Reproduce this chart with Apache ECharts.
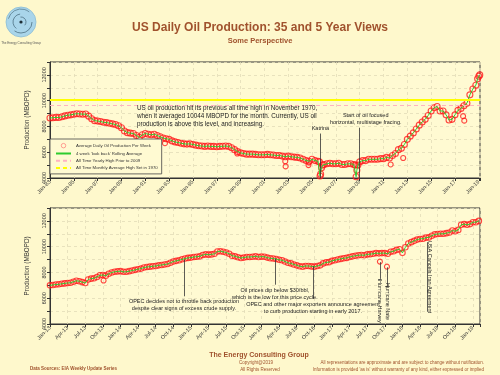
<!DOCTYPE html>
<html>
<head>
<meta charset="utf-8">
<script src="https://cdn.jsdelivr.net/npm/echarts@6/dist/echarts.min.js"></script>
<style>
  html, body { margin: 0; padding: 0; background: #fef8cc; }
  #chart { width: 500px; height: 375px; }
</style>
</head>
<body>
<div id="chart"></div>
<script>
// 35 year view: [decimal year, MBOPD]
const longData = [
  [1983.00, 8650], [1983.25, 8680], [1983.50, 8700], [1983.75, 8690],
  [1984.00, 8750], [1984.25, 8820], [1984.50, 8870], [1984.75, 8900],
  [1985.00, 8950], [1985.25, 8990], [1985.50, 8970], [1985.75, 8950],
  [1986.00, 8960], [1986.25, 8800], [1986.50, 8600], [1986.75, 8450],
  [1987.00, 8420], [1987.25, 8380], [1987.50, 8320], [1987.75, 8300],
  [1988.00, 8250], [1988.25, 8200], [1988.50, 8150], [1988.75, 8050],
  [1989.00, 7900], [1989.25, 7650], [1989.50, 7520], [1989.75, 7480],
  [1990.00, 7450], [1990.25, 7300], [1990.50, 7150], [1990.75, 7350],
  [1991.00, 7450], [1991.25, 7400], [1991.50, 7350], [1991.75, 7400],
  [1992.00, 7300], [1992.25, 7200], [1992.50, 7100], [1992.75, 7050],
  [1993.00, 7000], [1993.25, 6880], [1993.50, 6800], [1993.75, 6750],
  [1994.00, 6700], [1994.25, 6650], [1994.50, 6630], [1994.75, 6650],
  [1995.00, 6600], [1995.25, 6550], [1995.50, 6500], [1995.75, 6480],
  [1996.00, 6450], [1996.25, 6480], [1996.50, 6450], [1996.75, 6450],
  [1997.00, 6420], [1997.25, 6450], [1997.50, 6460], [1997.75, 6480],
  [1998.00, 6450], [1998.25, 6350], [1998.50, 6200], [1998.75, 6050],
  [1999.00, 5950], [1999.25, 5900], [1999.50, 5850], [1999.75, 5850],
  [2000.00, 5850], [2000.25, 5830], [2000.50, 5800], [2000.75, 5800],
  [2001.00, 5800], [2001.25, 5830], [2001.50, 5800], [2001.75, 5780],
  [2002.00, 5750], [2002.25, 5750], [2002.50, 5700], [2002.75, 5650],
  [2003.00, 5700], [2003.25, 5650], [2003.50, 5620], [2003.75, 5600],
  [2004.00, 5550], [2004.25, 5450], [2004.50, 5350], [2004.75, 5300],
  [2005.00, 5450], [2005.25, 5350], [2005.50, 5300], [2005.62, 5250],
  [2005.67, 4150], [2005.72, 4300], [2005.80, 4800], [2005.90, 5000],
  [2006.00, 5050], [2006.25, 5100], [2006.50, 5150], [2006.75, 5100],
  [2007.00, 5100], [2007.25, 5150], [2007.50, 5050], [2007.75, 5050],
  [2008.00, 5100], [2008.25, 5100], [2008.50, 5050], [2008.62, 5000],
  [2008.70, 4100], [2008.76, 4600], [2008.85, 5000],
  [2009.00, 5250], [2009.25, 5350], [2009.50, 5350], [2009.75, 5450],
  [2010.00, 5450], [2010.25, 5450], [2010.50, 5450], [2010.75, 5500],
  [2011.00, 5500], [2011.25, 5600], [2011.50, 5550], [2011.75, 5750],
  [2012.00, 5900], [2012.25, 6200], [2012.50, 6300], [2012.75, 6600],
  [2013.00, 7000], [2013.25, 7250], [2013.50, 7500], [2013.75, 7800],
  [2014.00, 8100], [2014.25, 8350], [2014.50, 8550], [2014.75, 8850],
  [2015.00, 9200], [2015.25, 9450], [2015.50, 9550], [2015.75, 9200],
  [2016.00, 9200], [2016.25, 8900], [2016.50, 8500], [2016.75, 8550],
  [2017.00, 8900], [2017.25, 9250], [2017.50, 9400], [2017.75, 9600],
  [2018.00, 9800], [2018.25, 10450], [2018.50, 10900], [2018.75, 11200],
  [2018.90, 11700], [2019.00, 11900], [2019.08, 12000]
]

// single weeks well off the trend (storms etc.)
const longOutliers = [
  [1992.65, 6700], [1998.72, 5900], [2002.75, 5300], [2002.78, 4900],
  [2004.70, 5000], [2004.73, 5200], [2011.60, 5050], [2012.65, 5550],
  [2017.68, 8800], [2017.78, 8450]
]

// 5 year view, two readings per month from Jan 2013
const shortStart = 2013
const shortStep = 1 / 24
const shortValues = [
  7000, 7030, 7060, 7080, 7120, 7150, 7180, 7200, 7280, 7350, 7320, 7250,
  7180, 7450, 7520, 7550, 7650, 7780, 7800, 7750, 7900, 8000, 8050, 8080,
  8100, 8050, 8050, 8100, 8150, 8200, 8250, 8300, 8380, 8420, 8450, 8480,
  8500, 8550, 8580, 8620, 8650, 8750, 8850, 8900, 8950, 9020, 9080, 9130,
  9150, 9200, 9220, 9250, 9350, 9400, 9380, 9400, 9450, 9620, 9650, 9600,
  9550, 9450, 9300, 9250, 9180, 9120, 9150, 9200, 9200, 9220, 9250, 9200,
  9230, 9220, 9150, 9100, 9080, 9040, 8980, 8950, 8850, 8750, 8700, 8620,
  8550, 8480, 8450, 8500, 8500, 8470, 8450, 8500, 8550, 8700, 8780, 8800,
  8900, 8950, 9000, 9050, 9100, 9130, 9200, 9250, 9300, 9330, 9350, 9330,
  9400, 9420, 9450, 9500, 9480, 9500, 9500, 9450, 9600, 9650, 9750, 9800,
  9520, 9950, 10250, 10350, 10450, 10550, 10600, 10620, 10700, 10720, 10850, 10950,
  10980, 11000, 11000, 11050, 11100, 11250, 11200, 11300, 11700, 11750, 11700, 11750,
  11900, 11900, 12000
]
const shortOutliers = [[2013.76, 7370], [2017.68, 8840], [2017.78, 8450]]

const yearlyHigh = 9637
const monthlyHigh = 10044

const names = {
  weekly: 'Average Daily Oil Production Per Week',
  rolling: "4 week 'look back' Rolling Average",
  yearly: 'All Time Yearly High Prior to 2009',
  monthly: 'All Time Monthly Average High Set in 1970',
}

const shortData = shortValues.map((v, i) => [shortStart + i * shortStep, v])

const FONT = '"Liberation Sans", Arial, sans-serif'
const BROWN = '#a0522d'
const RED = '#ff1a1a'
const GREEN = '#2ecc2e'

const yearLabel = (v) => {
  if (Math.abs(v - Math.round(v)) > 0.01) return ''
  return 'Jan-' + String(Math.round(v) % 100).padStart(2, '0')
}
const quarterLabel = (v) => {
  const q = Math.round(v * 4)
  if (Math.abs(v * 4 - q) > 0.01) return ''
  return ['Jan', 'Apr', 'Jul', 'Oct'][q % 4] + '-' + String(Math.floor(q / 4) % 100).padStart(2, '0')
}

const yAxisOf = (gridIndex) => ({
  type: 'value', gridIndex, min: 4000, max: 13000, interval: 1000,
  name: 'Production (MBOPD)', nameLocation: 'middle', nameGap: 20, nameRotate: 90,
  nameTextStyle: { fontSize: 6.3, color: '#333', fontFamily: FONT },
  axisLine: { show: true, lineStyle: { color: '#333' } },
  axisTick: { show: true, length: 3, lineStyle: { color: '#333' } },
  axisLabel: {
    rotate: 90, fontSize: 5.5, color: '#333', margin: 3, fontFamily: FONT,
    formatter: (v) => (v % 2000 === 0 ? String(v) : ''),
  },
  splitLine: { lineStyle: { color: '#e2dcb8', type: [3, 3], width: 0.8 } },
})

const xAxisOf = (gridIndex, min, interval, fmt) => ({
  type: 'value', gridIndex, min, max: 2019.1, interval,
  axisLine: { lineStyle: { color: '#333' } },
  axisTick: { length: 3, lineStyle: { color: '#333' } },
  axisLabel: { rotate: 45, fontSize: 5.5, color: '#333', margin: 3, fontFamily: FONT, formatter: fmt },
  splitLine: { show: true, lineStyle: { color: '#e2dcb8', type: [3, 3], width: 0.8 } },
})

const dotStyle = { color: 'rgba(0,0,0,0)', borderColor: RED, borderWidth: 1.1 }
const noteText = { fontSize: 5.5, color: '#222', fontFamily: FONT, lineHeight: 7 }
const vLine = (x, y1, y2, label, offset) => {
  const start = { coord: [x, y1] }
  if (label) {
    start.label = Object.assign({ show: true, position: 'end', distance: 2, formatter: label, align: 'center' }, noteText)
    if (offset) start.label.offset = offset
  }
  return [start, { coord: [x, y2] }]
}
const hTick = (x, y) => [{ coord: [x - 0.025, y] }, { coord: [x + 0.025, y] }]
const vText = (x, y, text) => ({
  coord: [x, y], symbolSize: 0,
  label: Object.assign({ show: true, position: 'inside', rotate: -90, formatter: text }, noteText),
})

const chart = echarts.init(document.getElementById('chart'), null, { renderer: 'canvas' })

chart.setOption({
  backgroundColor: '#fef8cc',
  animation: false,
  textStyle: { fontFamily: FONT },
  grid: [
    { left: 50, right: 20, top: 62, height: 116, show: true, backgroundColor: '#fffad2', borderColor: '#333', borderWidth: 1 },
    { left: 50, right: 20, top: 208, height: 116, show: true, backgroundColor: '#fffad2', borderColor: '#333', borderWidth: 1 },
  ],
  xAxis: [xAxisOf(0, 1983, 2, yearLabel), xAxisOf(1, 2013, 0.25, quarterLabel)],
  yAxis: [yAxisOf(0), yAxisOf(1)],
  legend: {
    left: 50, top: 139, orient: 'vertical', itemGap: 3.2, itemWidth: 15, itemHeight: 4.5,
    padding: [4, 4, 4, 5], borderColor: '#444', borderWidth: 0.8, backgroundColor: '#fffad2',
    textStyle: { fontSize: 4.3, color: '#333', fontFamily: FONT },
    data: [
      { name: names.weekly, icon: 'circle', itemStyle: { color: 'rgba(0,0,0,0)', borderColor: '#ff6b6b', borderWidth: 0.8 } },
      { name: names.rolling, itemStyle: { opacity: 0 } },
      { name: names.yearly, itemStyle: { opacity: 0 } },
      { name: names.monthly, itemStyle: { opacity: 0 } },
    ],
    selectedMode: false,
  },
  graphic: [
    { type: 'circle', shape: { cx: 21, cy: 22, r: 15 }, style: { fill: '#a9d5ea', stroke: '#8cbcd4', lineWidth: 0.8 } },
    { type: 'arc', shape: { cx: 21, cy: 22, r: 11, startAngle: 0, endAngle: 2.2 }, style: { stroke: '#2f4f5f', lineWidth: 0.6, fill: null } },
    { type: 'arc', shape: { cx: 21, cy: 22, r: 8, startAngle: 2.2, endAngle: 4.6 }, style: { stroke: '#2f4f5f', lineWidth: 0.6, fill: null } },
    { type: 'arc', shape: { cx: 21, cy: 22, r: 5, startAngle: 4.6, endAngle: 7.0 }, style: { stroke: '#2f4f5f', lineWidth: 0.6, fill: null } },
    { type: 'arc', shape: { cx: 21, cy: 22, r: 13, startAngle: 3.4, endAngle: 5.4 }, style: { stroke: '#2f4f5f', lineWidth: 0.5, fill: null } },
    { type: 'circle', shape: { cx: 21, cy: 22, r: 1.6 }, style: { fill: '#1e2e36' } },
    { type: 'text', style: { text: 'The Energy Consulting Group', x: 21, y: 43, fill: '#555', font: '3px ' + FONT, textAlign: 'center', textVerticalAlign: 'middle' } },
    { type: 'text', style: { text: 'US Daily Oil Production: 35 and 5 Year Views', x: 260, y: 28, fill: BROWN, font: 'bold 12px ' + FONT, textAlign: 'center', textVerticalAlign: 'middle' } },
    { type: 'text', style: { text: 'Some Perspective', x: 260, y: 41, fill: BROWN, font: 'bold 7.5px ' + FONT, textAlign: 'center', textVerticalAlign: 'middle' } },
    { type: 'text', style: { text: 'The Energy Consulting Group', x: 259, y: 355, fill: BROWN, font: 'bold 7px ' + FONT, textAlign: 'center', textVerticalAlign: 'middle' } },
    { type: 'text', style: { text: 'Copyright@2019', x: 256, y: 363, fill: BROWN, font: '4.5px ' + FONT, textAlign: 'center', textVerticalAlign: 'middle' } },
    { type: 'text', style: { text: 'All Rights Reserved', x: 260, y: 370, fill: BROWN, font: '4.5px ' + FONT, textAlign: 'center', textVerticalAlign: 'middle' } },
    { type: 'text', style: { text: 'Data Sources: EIA Weekly Update Series', x: 30, y: 369, fill: BROWN, font: 'bold 4.5px ' + FONT, textAlign: 'left', textVerticalAlign: 'middle' } },
    { type: 'text', style: { text: 'All representations are approximate and are subject to change without notification.', x: 484, y: 363, fill: BROWN, font: '4.5px ' + FONT, textAlign: 'right', textVerticalAlign: 'middle' } },
    { type: 'text', style: { text: "Information is provided 'as is' without warranty of any kind, either expressed or implied", x: 484, y: 370, fill: BROWN, font: '4.5px ' + FONT, textAlign: 'right', textVerticalAlign: 'middle' } },
  ],
  series: [
    // ---- 35 year view
    { name: names.weekly, type: 'scatter', xAxisIndex: 0, yAxisIndex: 0, symbolSize: 6, itemStyle: dotStyle, data: longData },
    { name: names.weekly, type: 'scatter', xAxisIndex: 0, yAxisIndex: 0, symbolSize: 5, itemStyle: dotStyle, data: longOutliers },
    {
      name: names.yearly, type: 'line', xAxisIndex: 0, yAxisIndex: 0, data: [], symbol: 'none',
      lineStyle: { color: '#ffb3c1', type: [4, 3], width: 1 },
      markLine: { silent: true, symbol: ['none', 'none'], label: { show: false }, lineStyle: { color: '#ffb3c1', type: [4, 3], width: 1 }, data: [{ yAxis: yearlyHigh }] },
    },
    {
      name: names.monthly, type: 'line', xAxisIndex: 0, yAxisIndex: 0, data: [], symbol: 'none',
      lineStyle: { color: '#ffff00', type: [4, 3], width: 1 },
      markLine: { silent: true, symbol: ['none', 'none'], label: { show: false }, lineStyle: { color: '#ffff00', type: 'solid', width: 2 }, data: [{ yAxis: monthlyHigh }] },
    },
    {
      name: names.rolling, type: 'line', xAxisIndex: 0, yAxisIndex: 0, data: longData, symbol: 'none',
      lineStyle: { color: GREEN, width: 1 },
      markLine: {
        silent: true, symbol: ['none', 'none'], lineStyle: { color: '#333', width: 0.8, type: 'solid' },
        data: [
          vLine(2005.7, 4000, 7450, 'Katrina'),
          vLine(2009.0, 4000, 7900, 'Start of oil focused\nhorizontal, multistage fracing.', [6, 0]),
        ],
      },
      markPoint: {
        silent: true, symbol: 'circle', symbolSize: 0,
        data: [{
          coord: [1990.3, 8780], symbolSize: 0,
          label: Object.assign({ show: true, position: 'right', distance: 0, align: 'left',
            formatter: 'US oil production hit its previous all time high in November 1970,\nwhen it averaged 10044 MBOPD for the month. Currently, US oil\nproduction is above this level, and increasing.' },
          noteText, { fontSize: 6.3, lineHeight: 7.8 }),
        }],
      },
    },
    // ---- 5 year view
    { name: names.weekly, type: 'scatter', xAxisIndex: 1, yAxisIndex: 1, symbolSize: 5.5, itemStyle: dotStyle, data: shortData },
    { name: names.weekly, type: 'scatter', xAxisIndex: 1, yAxisIndex: 1, symbolSize: 5, itemStyle: dotStyle, data: shortOutliers },
    {
      name: names.rolling, type: 'line', xAxisIndex: 1, yAxisIndex: 1, data: shortData, symbol: 'none',
      lineStyle: { color: GREEN, width: 1 },
      markLine: {
        silent: true, symbol: ['none', 'none'], lineStyle: { color: '#333', width: 0.8, type: 'solid' },
        data: [
          vLine(2014.9, 9000, 6150, 'OPEC decides not to throttle back production\ndespite clear signs of excess crude supply.'),
          vLine(2016.19, 9080, 7050, 'Oil prices dip below $30/bbl,\nwhich is the low for this price cycle.'),
          vLine(2016.73, 8480, 5950, 'OPEC and other major exporters announce agreement\nto curb production starting in early 2017.'),
          vLine(2017.68, 8800, 7500),
          vLine(2017.78, 8400, 6950),
          vLine(2018.35, 10350, 4950),
          hTick(2017.68, 7500),
          hTick(2017.78, 6950),
        ],
      },
      markPoint: {
        silent: true, symbol: 'circle', symbolSize: 0,
        data: [
          vText(2017.68, 5750, 'Hurricane Harvey'),
          vText(2017.79, 5750, 'Hurricane Nate'),
          vText(2018.385, 7650, 'USA Cancels Iran Agreement'),
        ],
      },
    },
  ],
})
</script>
</body>
</html>
